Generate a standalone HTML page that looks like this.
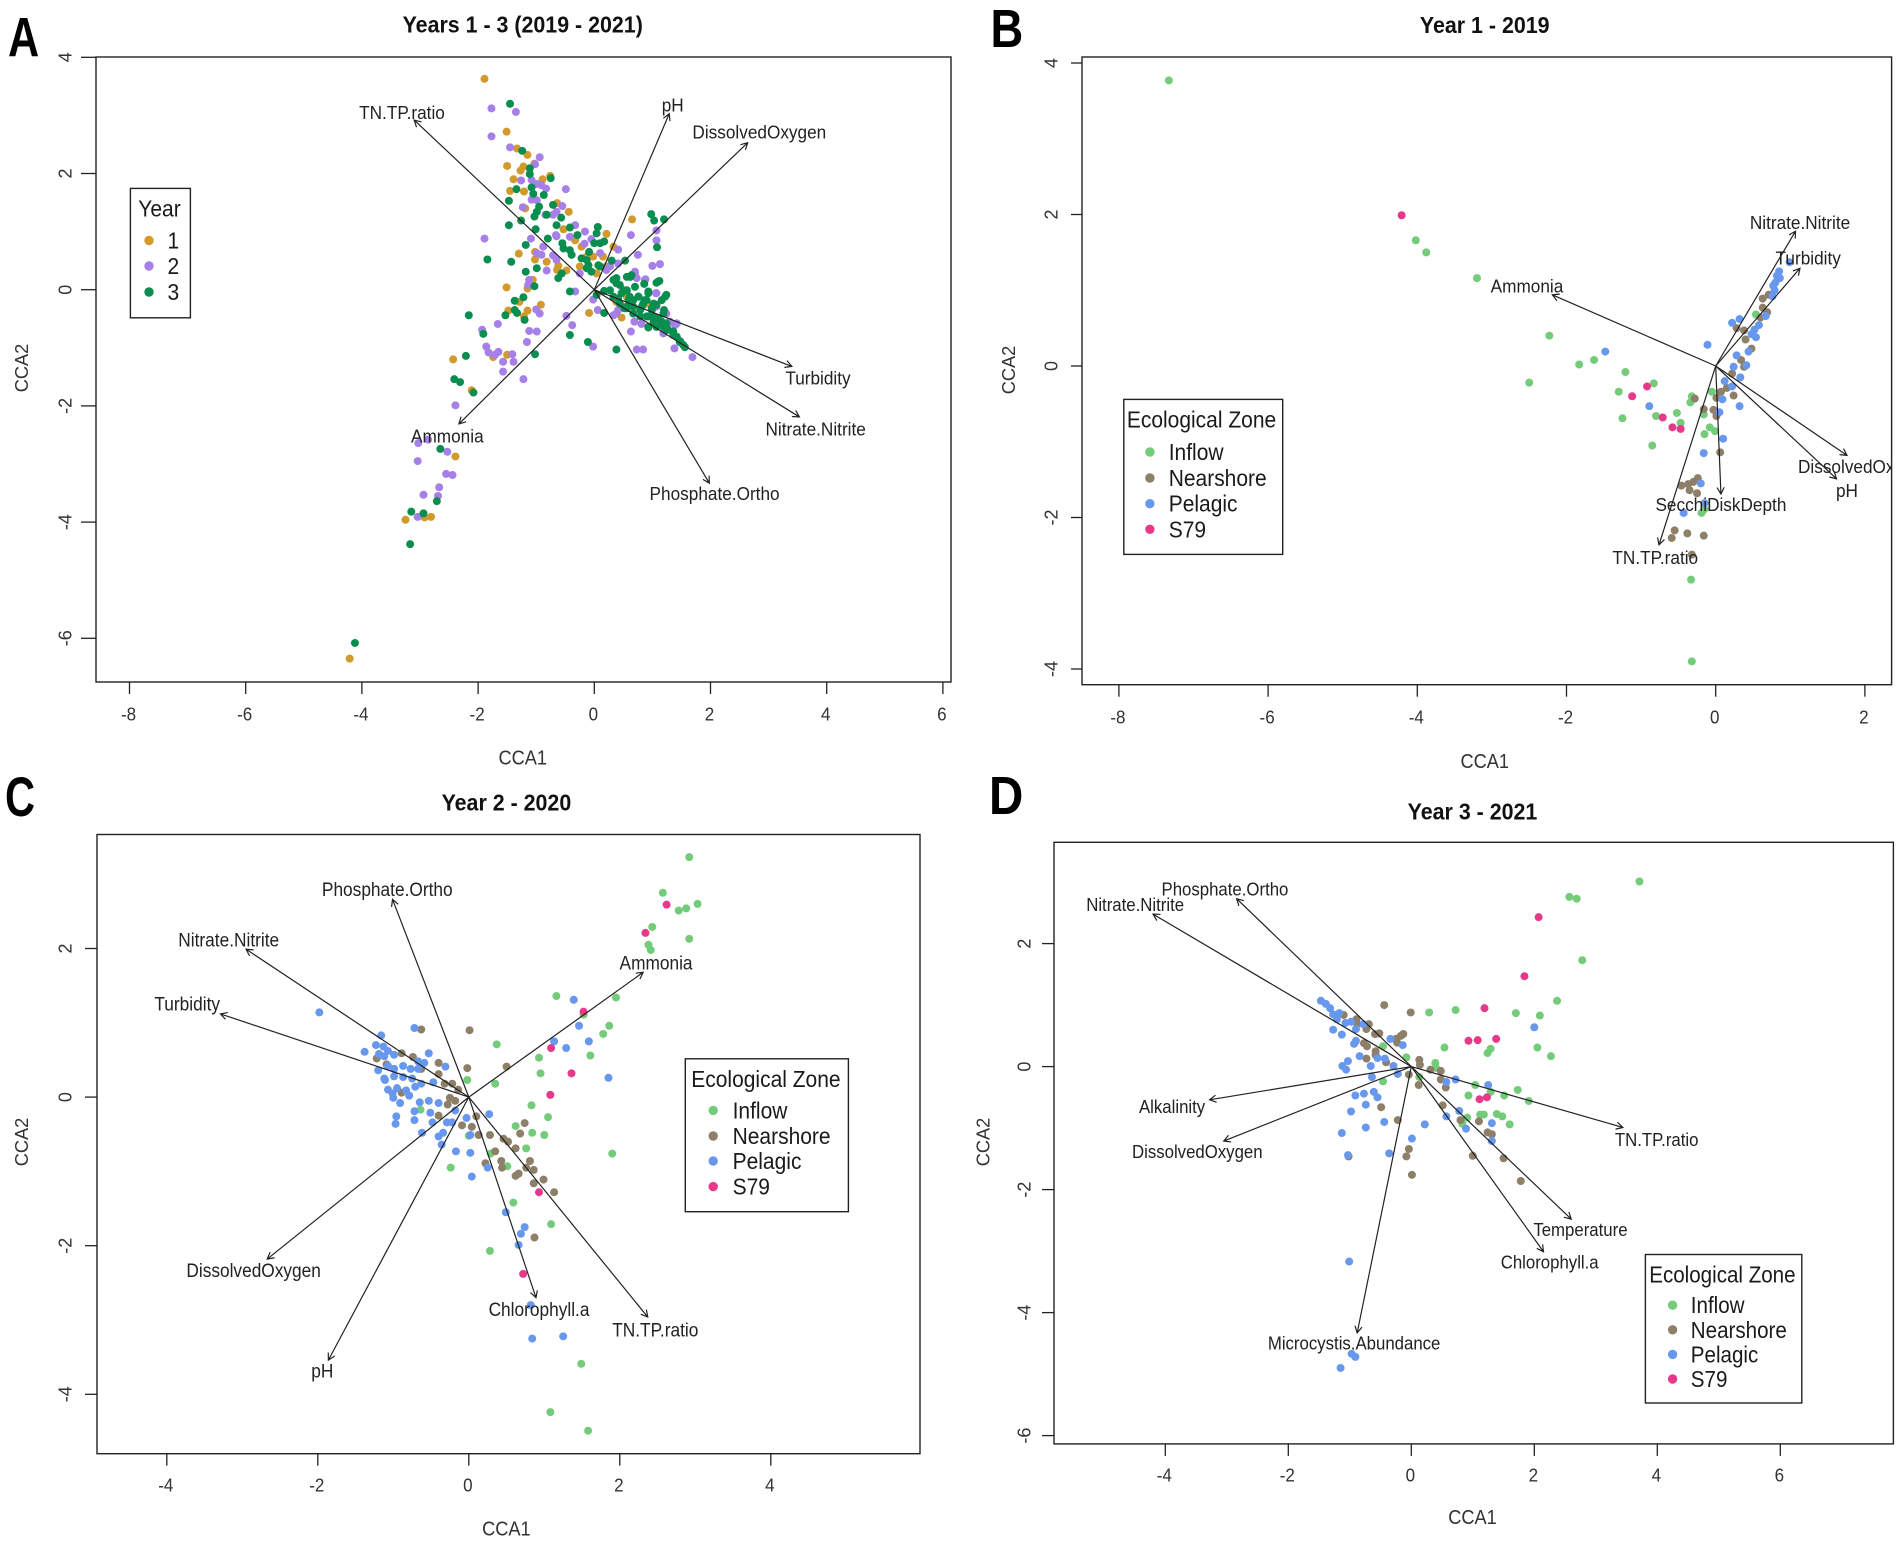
<!DOCTYPE html>
<html lang="en">
<head>
<meta charset="utf-8">
<title>CCA biplots by year and ecological zone</title>
<style>
  html,body{margin:0;padding:0;background:#fff;}
  svg{display:block;font-family:"Liberation Sans",sans-serif;fill:#1a1a1a;}
  .box{fill:none;stroke:#222;stroke-width:1.4;}
  .legend-box{fill:#fff;stroke:#222;stroke-width:1.4;}
  .ttl{font-weight:bold;font-size:21.4px;text-anchor:middle;fill:#111;}
  .letter{font-weight:bold;font-size:54px;fill:#000;}
  .axt{font-size:18.2px;text-anchor:middle;fill:#333;}
  .leg{font-size:21px;fill:#1a1a1a;}
</style>
</head>
<body>
<svg id="figure" xmlns="http://www.w3.org/2000/svg" width="1902" height="1542" viewBox="0 0 1902 1542">
  <rect width="1902" height="1542" fill="#fff"/>
  <defs>
    <clipPath id="clip-a"><rect x="96" y="57" width="855" height="625"/></clipPath>
    <clipPath id="clip-b"><rect x="1082" y="57" width="810" height="628"/></clipPath>
    <clipPath id="clip-c"><rect x="97" y="834" width="823" height="620"/></clipPath>
    <clipPath id="clip-d"><rect x="1054" y="842" width="840" height="602"/></clipPath>
  </defs>

  <text class="letter" transform="translate(8,56.5) scale(.8,1.03)">A</text>
  <text class="letter" transform="translate(990.5,47) scale(.84,1)">B</text>
  <text class="letter" transform="translate(5,816) scale(.77,1.03)">C</text>
  <text class="letter" transform="translate(989,814) scale(.88,1)">D</text>

  <text class="ttl" transform="translate(522.7,32.5) scale(1,1.08)">Years 1 - 3 (2019 - 2021)</text>
  <text class="ttl" transform="translate(1484.7,33) scale(1,1.08)">Year 1 - 2019</text>
  <text class="ttl" transform="translate(506.4,810.5) scale(1,1.08)">Year 2 - 2020</text>
  <text class="ttl" transform="translate(1472.5,819.5) scale(1,1.08)">Year 3 - 2021</text>

  <text class="axt" transform="translate(522.7,764.5) scale(1,1.1)">CCA1</text>
  <text class="axt" transform="translate(28,368) rotate(-90)">CCA2</text>
  <text class="axt" transform="translate(1484.7,768) scale(1,1.1)">CCA1</text>
  <text class="axt" transform="translate(1015,370) rotate(-90)">CCA2</text>
  <text class="axt" transform="translate(506.4,1535.5) scale(1,1.1)">CCA1</text>
  <text class="axt" transform="translate(28,1142) rotate(-90)">CCA2</text>
  <text class="axt" transform="translate(1472.5,1524) scale(1,1.1)">CCA1</text>
  <text class="axt" transform="translate(989.5,1142) rotate(-90)">CCA2</text>

  <g id="plots"></g>

  <g>
    <rect class="legend-box" x="130.4" y="188.4" width="60" height="129.4"/>
    <text class="leg" text-anchor="middle" transform="translate(159.5,216.5) scale(1,1.1)">Year</text>
    <circle cx="149" cy="240.5" r="4.7" fill="#d2992c"/>
    <text class="leg" text-anchor="middle" transform="translate(173.4,248.5) scale(1,1.1)">1</text>
    <circle cx="149" cy="266" r="4.7" fill="#a67fe8"/>
    <text class="leg" text-anchor="middle" transform="translate(173.4,274) scale(1,1.1)">2</text>
    <circle cx="149" cy="292" r="4.7" fill="#0a8e50"/>
    <text class="leg" text-anchor="middle" transform="translate(173.4,300) scale(1,1.1)">3</text>
  </g>

  <g>
    <rect class="legend-box" x="1123.8" y="399.4" width="158.9" height="155"/>
    <text class="leg" text-anchor="middle" transform="translate(1201.5,427.5) scale(1,1.1)">Ecological Zone</text>
    <circle cx="1149.9" cy="452" r="4.7" fill="#74cc7a"/>
    <text class="leg" transform="translate(1168.7,460) scale(1,1.1)">Inflow</text>
    <circle cx="1149.9" cy="478" r="4.7" fill="#8d7f68"/>
    <text class="leg" transform="translate(1168.7,486) scale(1,1.1)">Nearshore</text>
    <circle cx="1149.9" cy="503.7" r="4.7" fill="#6898ee"/>
    <text class="leg" transform="translate(1168.7,511.7) scale(1,1.1)">Pelagic</text>
    <circle cx="1149.9" cy="529.3" r="4.7" fill="#e8388a"/>
    <text class="leg" transform="translate(1168.7,537.3) scale(1,1.1)">S79</text>
  </g>

  <g>
    <rect class="legend-box" x="685.3" y="1058.8" width="163.1" height="152.9"/>
    <text class="leg" text-anchor="middle" transform="translate(765.9,1087) scale(1,1.1)">Ecological Zone</text>
    <circle cx="713.2" cy="1110.4" r="4.7" fill="#74cc7a"/>
    <text class="leg" transform="translate(732.6,1118.4) scale(1,1.1)">Inflow</text>
    <circle cx="713.2" cy="1136" r="4.7" fill="#8d7f68"/>
    <text class="leg" transform="translate(732.6,1144) scale(1,1.1)">Nearshore</text>
    <circle cx="713.2" cy="1161" r="4.7" fill="#6898ee"/>
    <text class="leg" transform="translate(732.6,1169) scale(1,1.1)">Pelagic</text>
    <circle cx="713.2" cy="1186.6" r="4.7" fill="#e8388a"/>
    <text class="leg" transform="translate(732.6,1194.6) scale(1,1.1)">S79</text>
  </g>

  <g>
    <rect class="legend-box" x="1645.4" y="1254.5" width="156.4" height="148.5"/>
    <text class="leg" text-anchor="middle" transform="translate(1722.4,1282.3) scale(.98,1.1)">Ecological Zone</text>
    <circle cx="1672.6" cy="1305.2" r="4.7" fill="#74cc7a"/>
    <text class="leg" transform="translate(1690.8,1313.2) scale(.98,1.1)">Inflow</text>
    <circle cx="1672.6" cy="1329.8" r="4.7" fill="#8d7f68"/>
    <text class="leg" transform="translate(1690.8,1337.8) scale(.98,1.1)">Nearshore</text>
    <circle cx="1672.6" cy="1354.4" r="4.7" fill="#6898ee"/>
    <text class="leg" transform="translate(1690.8,1362.4) scale(.98,1.1)">Pelagic</text>
    <circle cx="1672.6" cy="1379" r="4.7" fill="#e8388a"/>
    <text class="leg" transform="translate(1690.8,1387) scale(.98,1.1)">S79</text>
  </g>
</svg>

<script>
// ---------- Panel A data ----------
const aXTicks = [-8,-6,-4,-2,0,2,4,6];
const aYTicks = [4,2,0,-2,-4,-6];
const aYear1 = [[-1.51,2.72],[-1.33,2.43],[-1.15,2.32],[-1.03,2.17],[-1.50,2.13],[-1.22,2.12],[-1.27,2.05],[-1.39,1.90],[-.76,1.96],[-.89,1.90],[-1.45,1.70],[-1.21,1.69],[-.64,1.49],[-.44,1.34],[-1.19,1.40],[-.53,1.04],[.21,.96],[.65,1.21],[.33,.74],[-.33,.85],[-.22,.74],[-1.30,.62],[-1.02,.65],[-1.02,.52],[-.82,.48],[-.62,.41],[-.48,.33],[-.64,.34],[-.25,.40],[.15,.57],[-.02,.57],[-1.51,.04],[-1.06,.17],[-1.15,.02],[-.92,-.26],[-1.29,-.21],[-1.48,-.36],[-1.15,-.36],[-1.21,-.46],[-.09,-.40],[.38,-.21],[.47,-.48],[-2.43,-1.20],[-1.74,-1.16],[-1.50,-1.12],[-2.11,-1.73],[.04,.28],[.21,.40],[-2.39,-2.87],[-3.25,-3.96],[-2.92,-3.92],[-2.81,-3.91],[-4.21,-6.35],[-1.89,3.63],[.10,.40],[-.13,.57],[.56,-.12],[.90,-.24],[1.13,-.58],[1.24,-.69]];
const aYear2 = [[-1.77,3.12],[-1.35,3.06],[-1.77,2.64],[-1.45,2.45],[-.94,2.28],[-1.02,2.16],[-1.26,1.88],[-1.08,1.89],[-.99,1.82],[-.91,1.80],[-.83,1.74],[-.49,1.73],[-1.08,1.55],[-.99,1.54],[-1.23,1.42],[-.55,1.44],[-.65,1.34],[-.71,1.29],[-.84,1.29],[-.33,1.11],[-.66,.94],[-.16,1.00],[-1.89,.88],[-1.09,.88],[-.88,.74],[-.65,.92],[-.42,.91],[-.05,.87],[-.17,.79],[.41,.69],[.63,.94],[1.07,1.02],[1.07,.85],[.75,.60],[1.00,.41],[1.13,.44],[-.99,.63],[-.91,.60],[-.71,.59],[-.65,.51],[-.82,.33],[.10,.63],[.21,.34],[.27,.40],[.41,.45],[-.25,.28],[.70,.31],[.73,.20],[.88,.18],[-1.12,.17],[-1.14,.08],[-.33,-.03],[-.02,-.17],[1.06,-.06],[-1.00,-.34],[-.94,-.41],[-.48,-.45],[-.38,-.61],[.06,-.35],[.33,-.44],[.41,-.35],[.38,-.41],[.69,-.55],[.81,-.59],[.63,-.72],[-1.66,-.59],[-1.93,-.69],[-1.12,-.71],[-.99,-.72],[-1.16,-.90],[-1.86,-.98],[-1.82,-1.08],[-1.65,-1.07],[-1.71,-1.12],[-1.41,-1.11],[-1.57,-1.24],[-1.39,-1.24],[-1.57,-1.41],[-1.22,-1.54],[-.02,-.98],[.73,-1.03],[.84,-1.03],[1.38,-1.01],[1.69,-1.16],[1.19,-.75],[1.24,-.41],[1.42,-.58],[1.07,-.29],[1.27,-.58],[-2.39,-1.99],[-3.03,-2.64],[-2.86,-2.58],[-2.53,-2.79],[-3.04,-2.95],[-2.55,-3.17],[-2.44,-3.19],[-2.67,-3.40],[-2.94,-3.53],[-2.69,-3.55],[-3.04,-3.91],[.70,.28],[.87,.17],[1.07,-.06],[1.30,-.55],[1.39,-.61],[1.19,-.75]];
const aYear3 = [[-1.45,3.20],[-1.24,2.39],[-1.11,2.09],[-1.11,1.99],[-.75,1.92],[-1.34,1.73],[-1.08,1.76],[-1.05,1.65],[-.87,1.63],[-1.47,1.53],[-.71,1.46],[-.95,1.43],[-.99,1.34],[-1.03,1.26],[-.82,1.29],[-.57,1.24],[-1.47,1.11],[-1.26,1.19],[-1.01,1.04],[-.65,1.11],[-.42,1.07],[.98,1.30],[1.03,1.19],[1.20,1.21],[.06,1.08],[.04,.97],[-.29,.94],[-.80,.88],[-1.18,.77],[-.55,.80],[-.53,.71],[-.42,.68],[-.39,.60],[0,.80],[.10,.80],[.17,.83],[-.09,.65],[-1.84,.52],[1.08,.73],[-1.43,.48],[-.99,.37],[-1.18,.31],[-.56,.28],[-.62,.20],[-.13,.51],[-.10,.42],[.07,.42],[-.05,.31],[.30,.50],[.53,.50],[.56,.22],[.64,.25],[.38,.20],[.44,.08],[.86,.10],[1.07,.12],[1.12,.15],[-1.03,.06],[-.42,-.03],[.17,-.02],[.56,-.01],[.61,-.12],[.76,-.12],[.93,-.06],[1.24,-.09],[1.16,-.18],[.90,-.18],[1.02,-.24],[-1.22,-.13],[-1.37,-.19],[-2.16,-.44],[-1.37,-.35],[-1.53,-.44],[-1.33,-.40],[-1.20,-.52],[.17,-.40],[.04,-.09],[.52,-.32],[.67,-.29],[.84,-.24],[1.20,-.35],[.90,-.46],[1.02,-.46],[1.10,-.49],[.93,-.64],[1.19,-.64],[1.27,-.69],[1.36,-.72],[1.42,-.81],[1.47,-.90],[1.56,-.99],[-1.91,-.76],[-.42,-.78],[-.11,-.90],[.38,-1.03],[-2.21,-1.14],[-1.02,-1.11],[-2.41,-1.54],[-2.31,-1.59],[-2.08,-1.77],[.33,-.12],[.44,-.24],[.56,-.29],[.67,-.41],[.79,-.46],[.79,-.35],[.99,-.35],[.38,.11],[.5,-.01],[.33,.17],[.67,-.18],[.41,-.15],[1.02,-.55],[1.07,-.64],[1.24,-.58],[.10,.40],[-.13,.37],[-.22,.54],[-2.65,-2.74],[-2.71,-3.64],[-3.15,-3.82],[-2.94,-3.85],[-3.17,-4.38],[-4.12,-6.08],[.27,-.01],[.39,.11],[.47,-.06],[.62,.22],[.70,.05],[.59,-.18],[.76,-.12],[.87,-.18],[.93,-.03],[.82,-.29],[.99,-.32],[1.07,-.26],[1.22,-.12],[.93,-.46],[1.05,-.49],[1.16,-.55],[1.25,-.69],[1.36,-.78],[1.48,-.89],[1.53,-.95],[1.10,.14],[.56,-.32],[1.19,-.41],[.93,-.65]];
const aVectorNames = ["TN.TP.ratio","pH","DissolvedOxygen","Turbidity","Nitrate.Nitrite","Phosphate.Ortho","Ammonia"];
const aVectorTips = [[-3.10,2.92],[1.29,3.03],[2.64,2.53],[3.40,-1.32],[3.53,-2.19],[1.98,-3.33],[-2.33,-2.31]];
const aLabelSpots = [[-3.31,3.06],[1.35,3.19],[2.84,2.72],[3.85,-1.51],[3.81,-2.39],[2.07,-3.50],[-2.53,-2.51]];

// ---------- Panel B data ----------
const bXTicks = [-8,-6,-4,-2,0,2];
const bYTicks = [4,2,0,-2,-4];
const bInflow = [[-7.33,3.77],[-4.02,1.66],[-3.88,1.50],[-3.20,1.16],[-2.23,.40],[-2.50,-.22],[-1.83,.02],[-1.63,.08],[-1.21,-.08],[-.83,-.23],[-1.30,-.34],[-1.25,-.69],[-.80,-.66],[-.52,-.62],[-.47,-.75],[-.85,-1.05],[-.32,-.40],[-.34,-.48],[-.05,-.34],[-.16,-.64],[-.08,-.81],[-.01,-.86],[-.15,-.90],[-.19,-1.94],[-.15,-1.89],[-.33,-2.82],[-.32,-3.90],[.54,.68]];
const bNearshore = [[-.28,-.43],[-.16,-.57],[-.03,-.58],[.01,-.66],[.06,-1.14],[.01,-.42],[.07,-.34],[.15,-.29],[.24,-.39],[.38,-.01],[.34,.08],[.48,.23],[.22,-.10],[.28,.50],[.40,.35],[.38,.47],[.60,.64],[.69,.71],[.63,.77],[.63,.89],[.71,.94],[-.46,-1.58],[-.37,-1.56],[-.30,-1.53],[-.24,-1.48],[-.35,-1.64],[-.25,-1.68],[-.55,-2.17],[-.38,-2.21],[-.59,-2.27],[-.16,-2.24],[-.32,-2.49]];
const bPelagic = [[.99,1.37],[.85,1.25],[.86,1.16],[.80,1.10],[.79,1.00],[.76,.92],[.67,.66],[.58,.54],[.52,.48],[.48,.42],[.54,.38],[.44,.19],[.22,.57],[.32,.62],[-.11,.28],[-1.48,.19],[.28,.14],[.41,.01],[.24,-.01],[.33,-.15],[.12,-.20],[.22,-.27],[.09,-.44],[.05,-.61],[.32,-.53],[.10,-.96],[-.16,-1.15],[-.89,-.53],[-.20,-1.55],[-.15,-1.81],[-.43,-1.94],[.82,1.19],[.77,1.06]];
const bS79 = [[-4.21,1.99],[-.92,-.27],[-1.12,-.40],[-.71,-.68],[-.58,-.81],[-.47,-.83]];
const bVectorNames = ["Nitrate.Nitrite","Turbidity","Ammonia","DissolvedOxygen","pH","SecchiDiskDepth","TN.TP.ratio"];
const bVectorTips = [[1.07,1.78],[1.13,1.29],[-2.19,.94],[1.76,-1.18],[1.62,-1.49],[.07,-1.69],[-.76,-2.36]];
const bLabelSpots = [[1.13,1.90],[1.24,1.43],[-2.53,1.06],[2.00,-1.32],[1.76,-1.64],[.07,-1.82],[-.81,-2.52]];

// ---------- Panel C data ----------
const cXTicks = [-4,-2,0,2,4];
const cYTicks = [2,0,-2,-4];
const cInflow = [[2.92,3.23],[2.57,2.75],[3.03,2.60],[2.88,2.54],[2.78,2.51],[2.43,2.29],[2.92,2.13],[2.38,2.05],[2.41,1.98],[1.16,1.36],[1.95,1.34],[1.86,.96],[1.78,.85],[1.52,1.11],[.37,.71],[1.61,.56],[.93,.53],[.95,.32],[.35,.18],[-.02,.23],[.83,-.11],[1.05,-.27],[.62,-.39],[.84,-.48],[1.00,-.51],[.76,-.69],[.29,-.76],[.51,-.93],[1.90,-.76],[-.24,-.95],[-.64,-.17],[0,-.52],[.59,-1.42],[1.09,-1.71],[.28,-2.07],[1.49,-3.59],[1.08,-4.24],[1.58,-4.49]];
const cNearshore = [[-.63,.91],[.01,.90],[-.02,.39],[.50,.41],[-.89,.59],[-.74,.54],[-.40,.46],[-.63,.38],[-.40,.31],[-.32,.18],[-.22,.18],[-.14,.10],[-1.22,.52],[-1.09,.44],[-.89,.06],[-.25,-.01],[-.18,-.05],[-.28,-.10],[-.40,-.25],[-.09,-.38],[.04,-.40],[.10,-.26],[.13,-.51],[.28,-.51],[.46,-.56],[.52,-.60],[.62,-.69],[.74,-.35],[.68,-.49],[.35,-.73],[.22,-.89],[.43,-.86],[.44,-.95],[.81,-.86],[.76,-.95],[.86,-.98],[.66,-1.03],[.62,-1.06],[.99,-1.11],[.86,-1.16],[1.13,-1.28],[.87,-1.89]];
const cPelagic = [[-1.98,1.14],[-1.16,.83],[-.72,.93],[-1.38,.61],[-1.23,.70],[-1.13,.68],[-1.07,.62],[-1.19,.58],[-1.12,.55],[-.99,.57],[-.53,.59],[-.67,.48],[-.59,.46],[-.31,.41],[-1.20,.36],[-1.07,.42],[-.99,.38],[-.87,.42],[-.77,.38],[-.67,.38],[-1.11,.23],[-.99,.28],[-.87,.27],[-.75,.25],[-1.12,.25],[-1.07,.10],[-.95,.12],[-.83,.09],[-.71,.14],[-.63,.18],[-.47,.20],[-1.0,-.01],[-.91,-.08],[-.79,.02],[-.65,-.07],[-.53,-.05],[-.40,-.08],[-1.01,.05],[-.96,-.26],[-.97,-.36],[-.72,-.19],[-.72,-.31],[-.51,-.21],[-.48,-.34],[-.29,-.34],[-.22,-.34],[-.62,-.48],[-.40,-.53],[-.34,-.48],[-.36,-.64],[-.03,-.28],[.02,-.51],[-.17,-.73],[.02,-.75],[.27,-.23],[.25,-.95],[.04,-1.07],[1.13,.75],[1.39,1.31],[1.46,.96],[1.59,.75],[1.29,.66],[1.85,.26],[.49,-1.55],[.74,-1.75],[.69,-1.84],[.66,-1.99],[.82,-2.80],[.84,-3.25],[1.25,-3.22],[-.18,-.18]];
const cS79 = [[2.62,2.59],[2.34,2.21],[1.52,1.15],[1.09,.66],[1.36,.32],[1.08,.03],[.93,-1.28],[.72,-2.38]];
const cVectorNames = ["Phosphate.Ortho","Nitrate.Nitrite","Turbidity","Ammonia","DissolvedOxygen","pH","Chlorophyll.a","TN.TP.ratio"];
const cVectorTips = [[-1.01,2.66],[-2.95,1.99],[-3.29,1.12],[2.31,1.68],[-2.67,-2.18],[-1.86,-3.54],[.89,-2.70],[2.37,-2.96]];
const cLabelSpots = [[-1.08,2.80],[-3.18,2.12],[-3.73,1.26],[2.48,1.81],[-2.85,-2.33],[-1.94,-3.68],[.93,-2.85],[2.47,-3.13]];

// ---------- Panel D data ----------
const dXTicks = [-4,-2,0,2,4,6];
const dYTicks = [2,0,-2,-4,-6];
const dInflow = [[3.71,3.01],[2.57,2.76],[2.69,2.73],[2.78,1.73],[2.37,1.07],[2.09,.83],[1.70,.87],[.29,.88],[.72,.92],[.54,.31],[2.05,.31],[2.27,.17],[1.24,.22],[1.29,.29],[-.46,.33],[-.08,.15],[.39,.06],[.40,-.02],[.13,-.17],[-.46,-.24],[1.04,-.30],[1.29,-.41],[.93,-.47],[1.51,-.47],[1.73,-.38],[1.91,-.56],[1.12,-.78],[1.18,-.78],[1.39,-.77],[1.48,-.81],[1.60,-.94],[.91,-.83],[.83,-.93]];
const dNearshore = [[-.44,1.00],[-.01,.88],[-1.10,.84],[-.89,.77],[-.88,.69],[-.69,.69],[-.73,.61],[-.59,.53],[-.52,.54],[-.13,.53],[-.17,.50],[-.25,.45],[-.23,.39],[-.77,.38],[-.72,.33],[-.58,.25],[-.58,.19],[-.73,.13],[-.41,.07],[.13,.11],[.14,.03],[.31,-.05],[.48,-.07],[-.04,-.13],[.12,-.30],[.48,-.21],[.56,-.34],[.51,-.63],[.80,-.87],[1.10,-.89],[1.24,-1.07],[1.31,-1.10],[-.49,-.66],[-.22,-.87],[-.04,-1.34],[-.08,-1.46],[-1.02,-1.46],[.01,-1.76],[1.0,-1.45],[1.50,-1.49],[1.78,-1.86]];
const dPelagic = [[-1.47,1.07],[-1.39,1.02],[-1.32,.95],[-1.27,.85],[-1.17,.87],[-1.21,.77],[-1.07,.71],[-.98,.73],[-.90,.61],[-.78,.69],[-1.27,.60],[-1.13,.52],[-.93,.37],[-.90,.42],[-.34,.45],[-.14,.35],[-.84,.17],[-.55,.14],[-.43,.13],[-1.03,.09],[-1.12,.01],[-1.06,-.05],[-.66,.01],[-.29,.01],[-.64,-.17],[-.22,-.12],[.57,-.25],[.72,-.21],[1.25,-.30],[-.91,-.47],[-.77,-.44],[-.61,-.41],[-.55,-.50],[-.74,-.62],[-.98,-.73],[-.44,-.90],[-.74,-.99],[-1.13,-1.08],[.78,-.72],[.57,-.81],[.89,-1.01],[1.31,-.92],[1.31,-1.21],[.22,-.94],[.01,-1.17],[-.36,-1.41],[-1.01,-3.17],[-.97,-4.67],[-.91,-4.72],[-1.15,-4.90],[2.00,.64],[-1.03,-1.44]];
const dS79 = [[2.07,2.43],[1.84,1.47],[1.19,.95],[1.38,.45],[.93,.42],[1.08,.43],[1.11,-.53],[1.23,-.50]];
const dVectorNames = ["Phosphate.Ortho","Nitrate.Nitrite","Alkalinity","DissolvedOxygen","TN.TP.ratio","Temperature","Chlorophyll.a","Microcystis.Abundance"];
const dVectorTips = [[-2.84,2.73],[-4.20,2.48],[-3.28,-.54],[-3.05,-1.21],[3.44,-.99],[2.60,-2.48],[2.15,-3.01],[-.88,-4.33]];
const dLabelSpots = [[-3.03,2.90],[-4.49,2.64],[-3.89,-.64],[-3.48,-1.37],[3.99,-1.18],[2.75,-2.64],[2.25,-3.17],[-.93,-4.49]];

// ---------- Colours ----------
const yearColors = ["#d2992c","#a67fe8","#0a8e50"];
const zoneColors = ["#74cc7a","#8d7f68","#6898ee","#e8388a"];
const yearNames = ["year-1","year-2","year-3"];
const zoneNames = ["inflow","nearshore","pelagic","s79"];

// ---------- Layout of each panel (pixels) ----------
const panels = [
  {id:"a",x0:594.3,xs:58.1,y0:289.7,ys:58.1,l:96,r:951,t:57,b:682,xTick:12,yTick:15,xLab:714,yLab:65,labelSize:17.2,xTicks:aXTicks,yTicks:aYTicks,series:[aYear1,aYear2,aYear3],names:yearNames,colors:yearColors,vn:aVectorNames,vt:aVectorTips,ls:aLabelSpots},
  {id:"b",x0:1715.7,xs:74.6,y0:366,ys:75.75,l:1082,r:1891.6,t:57,b:684.7,xTick:12,yTick:11,xLab:717,yLab:1051,labelSize:17.2,xTicks:bXTicks,yTicks:bYTicks,series:[bInflow,bNearshore,bPelagic,bS79],names:zoneNames,colors:zoneColors,vn:bVectorNames,vt:bVectorTips,ls:bLabelSpots},
  {id:"c",x0:468.8,xs:75.5,y0:1097.1,ys:74.3,l:97,r:920,t:834.5,b:1453.7,xTick:12,yTick:12,xLab:1485,yLab:65,labelSize:17.3,xTicks:cXTicks,yTicks:cYTicks,series:[cInflow,cNearshore,cPelagic,cS79],names:zoneNames,colors:zoneColors,vn:cVectorNames,vt:cVectorTips,ls:cLabelSpots},
  {id:"d",x0:1411.3,xs:61.5,y0:1066.6,ys:61.5,l:1054,r:1893.4,t:842.3,b:1443.9,xTick:12,yTick:12,xLab:1475,yLab:1023.8,labelSize:16.8,xTicks:dXTicks,yTicks:dYTicks,series:[dInflow,dNearshore,dPelagic,dS79],names:zoneNames,colors:zoneColors,vn:dVectorNames,vt:dVectorTips,ls:dLabelSpots}
];

const NS = "http://www.w3.org/2000/svg";
function make(tag, attrs, parent){
  const n = document.createElementNS(NS, tag);
  for (const k in attrs) n.setAttribute(k, attrs[k]);
  parent.appendChild(n);
  return n;
}
const root = document.getElementById("plots");

panels.forEach(function(p){
  const sx = function(v){ return p.x0 + v * p.xs; };
  const sy = function(v){ return p.y0 - v * p.ys; };

  const g = make("g", {}, root);
  
  

  const box = make("rect", {"class":"box",x:p.l,y:p.t,width:p.r-p.l,height:p.b-p.t}, g);
  
  

  p.xTicks.forEach(function(v){
    const tick = make("line", {x1:sx(v),x2:sx(v),y1:p.b,y2:p.b+p.xTick,stroke:"#222","stroke-width":1.3}, g);
    
    
    const lab = make("text", {"text-anchor":"middle","font-size":17,fill:"#333",transform:"translate("+(sx(v)-1)+","+(p.xLab+6.5)+") scale(1,1.1)"}, g);
    lab.textContent = String(v);
    
    
  });
  p.yTicks.forEach(function(v){
    const tick = make("line", {x1:p.l-p.yTick,x2:p.l,y1:sy(v),y2:sy(v),stroke:"#222","stroke-width":1.3}, g);
    
    
    const lab = make("text", {"text-anchor":"middle","font-size":18,fill:"#333",transform:"translate("+(p.yLab+6.5)+","+sy(v)+") rotate(-90)"}, g);
    lab.textContent = String(v);
    
    
  });

  const clip = make("g", {"clip-path":"url(#clip-"+p.id+")"}, g);
  
  

  p.series.forEach(function(pts, si){
    pts.forEach(function(pt){
      const c = make("circle", {cx:sx(pt[0]),cy:sy(pt[1]),r:4,fill:p.colors[si]}, clip);
      
      
    });
  });

  p.vt.forEach(function(tip, i){
    const x = sx(tip[0]), y = sy(tip[1]), ox = sx(0), oy = sy(0);
    const a = Math.atan2(y - oy, x - ox), h = 7.5, w = 0.5;
    const d = "M"+ox+" "+oy+"L"+x+" "+y+
              "M"+(x-h*Math.cos(a-w))+" "+(y-h*Math.sin(a-w))+"L"+x+" "+y+"L"+(x-h*Math.cos(a+w))+" "+(y-h*Math.sin(a+w));
    const v = make("path", {d:d,fill:"none",stroke:"#222","stroke-width":1.2}, clip);
    
    
  });
  p.vt.forEach(function(tip, i){
    const spot = p.ls[i];
    const t = make("text", {"text-anchor":"middle","font-size":p.labelSize,fill:"#222",transform:"translate("+sx(spot[0])+","+(sy(spot[1])+7)+") scale(1,1.1)"}, clip);
    t.textContent = p.vn[i];
    
    
  });
});
</script>
</body>
</html>
